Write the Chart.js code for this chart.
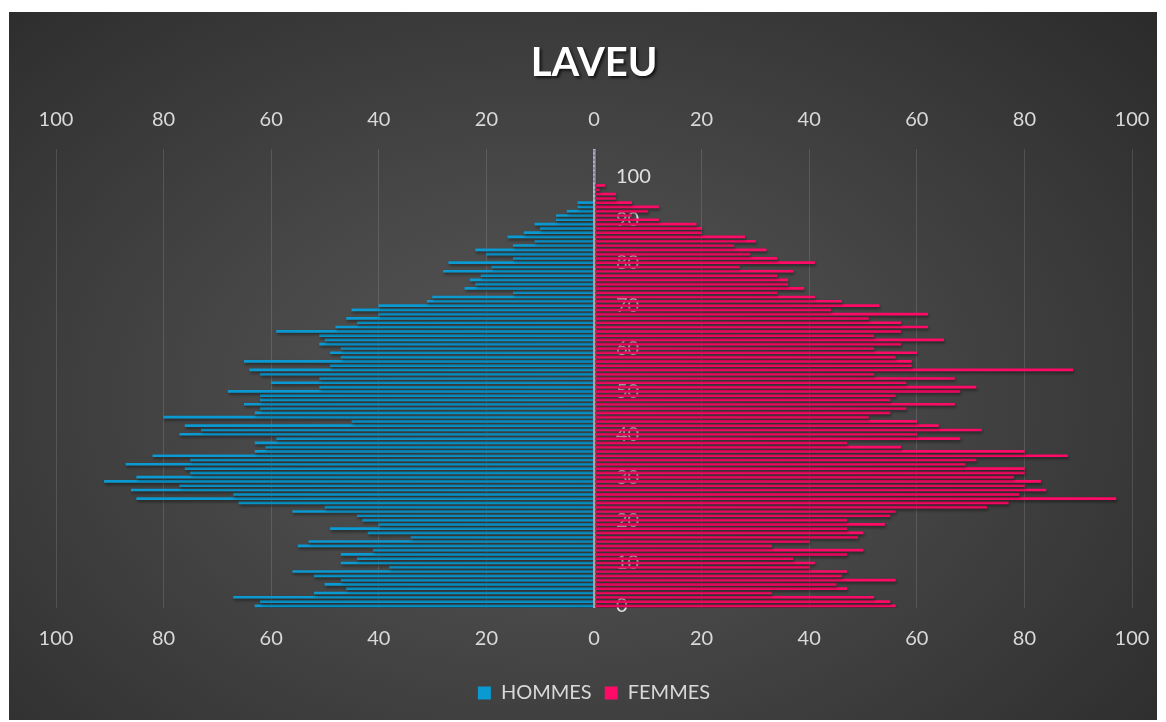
<!DOCTYPE html>
<html><head><meta charset="utf-8">
<script src="https://cdn.jsdelivr.net/npm/chart.js@4.4.1/dist/chart.umd.min.js"></script>
<style>
html,body{margin:0;padding:0;background:#fff;width:1166px;height:722px;overflow:hidden}
#wrap{position:absolute;left:9px;top:12px;width:1148px;height:708px;
background:radial-gradient(ellipse 70% 80% at 47% 55%, #575757 0%, #474747 40%, #2c2c2c 100%);}
canvas{display:block}
</style></head><body>
<div id="wrap"><canvas id="c"></canvas></div>
<script>
const ages = [0,1,2,3,4,5,6,7,8,9,10,11,12,13,14,15,16,17,18,19,20,21,22,23,24,25,26,27,28,29,30,31,32,33,34,35,36,37,38,39,40,41,42,43,44,45,46,47,48,49,50,51,52,53,54,55,56,57,58,59,60,61,62,63,64,65,66,67,68,69,70,71,72,73,74,75,76,77,78,79,80,81,82,83,84,85,86,87,88,89,90,91,92,93,94,95,96,97,98,99,100,101,102,103,104,105,106];
const hommes = [63,62,67,52,46,50,47,52,56,38,47,44,47,41,55,53,34,42,49,40,43,44,56,50,66,85,67,86,77,91,85,75,76,87,75,82,63,61,63,59,77,73,76,45,80,63,62,65,62,62,68,51,60,51,62,64,49,65,47,49,47,51,50,51,59,48,44,46,40,45,40,31,30,15,24,22,23,21,28,19,27,15,20,22,15,11,16,13,10,11,7,7,5,3,3,0,0,0,0,0,0,0,0,0,0,0,0];
const femmes = [56,55,52,33,47,45,56,46,47,40,41,37,47,50,33,40,49,50,47,54,47,55,56,73,77,97,79,84,80,83,78,80,80,69,71,88,80,57,47,68,60,72,64,60,51,55,58,67,55,56,68,71,58,67,52,89,59,59,56,60,52,57,65,52,57,62,57,51,62,44,53,46,41,34,39,36,36,34,37,27,41,34,29,32,26,30,28,20,20,19,12,7,10,12,7,4,4,1,2,0,0,0,0,0,0,0,0];
const axisMin = -100, axisMax = 100, axisStep = 20;
const seriesNames = ['HOMMES','FEMMES'];
const colHommes = '#0A9AD1', colFemmes = '#FF0A66';
const FONT = 'Lato';

const shadowPlugin = {
  id:'barShadow',
  beforeDatasetsDraw(chart){ const c=chart.ctx; c.save(); c.shadowColor='rgba(0,0,0,0.45)'; c.shadowBlur=3; c.shadowOffsetX=1; c.shadowOffsetY=2; },
  afterDatasetsDraw(chart){ chart.ctx.restore(); },
  afterLayout(chart){
    const t = chart.titleBlock;
    if (t && !t._shadowWrapped){
      const d = t.draw.bind(t);
      t.draw = function(){ const c = chart.ctx; c.save(); c.shadowColor='rgba(0,0,0,0.7)'; c.shadowBlur=3; c.shadowOffsetX=2; c.shadowOffsetY=2; d(); c.restore(); };
      t._shadowWrapped = true;
    }
  }
};
const noSidePad = s => { s.paddingLeft = 0; s.paddingRight = 0; };

new Chart(document.getElementById('c'), {
  type:'bar',
  data:{
    labels: ages,
    datasets:[
      {label:seriesNames[0], data:hommes.map(v=>-v), backgroundColor:colHommes, barThickness:2, xAxisID:'x'},
      {label:seriesNames[1], data:femmes, backgroundColor:colFemmes, barThickness:2, xAxisID:'x'}
    ]
  },
  options:{
    indexAxis:'y', responsive:true, maintainAspectRatio:false, animation:false,
    layout:{padding:{left:47, right:25, top:0, bottom:7}},
    scales:{
      x:{ type:'linear', position:'bottom', stacked:true, min:axisMin, max:axisMax, afterFit:noSidePad,
        ticks:{stepSize:axisStep, padding:19, color:'#d9d9d9', font:{family:FONT,size:20}, callback:v=>Math.abs(v)},
        grid:{drawTicks:false, color:c=>c.tick && c.tick.value===0 ? 'rgba(215,215,215,0.9)' : 'rgba(255,255,255,0.13)', lineWidth:c=>c.tick && c.tick.value===0 ? 2.5 : 1},
        border:{display:false}
      },
      x2:{ type:'linear', position:'top', min:axisMin, max:axisMax, afterFit:noSidePad,
        ticks:{stepSize:axisStep, padding:17, color:'#d9d9d9', font:{family:FONT,size:20}, callback:v=>Math.abs(v)},
        grid:{display:false, drawTicks:false}, border:{display:false}
      },
      y:{ type:'category', stacked:true, reverse:true, position:'left', z:1,
        grid:{display:false, drawTicks:false}, border:{display:false},
        afterFit(s){ s.width = 0; s.paddingTop = 0; s.paddingBottom = 0; },
        ticks:{mirror:true, padding:560, autoSkip:false, color:'#e0e0e0', font:{family:FONT,size:20},
          callback(v){ const a = +this.getLabelForValue(v); return (a % 10 === 0 && a <= 100) ? String(a) : null; } }
      }
    },
    plugins:{
      title:{display:true, text:'LAVEU', color:'#ffffff', font:{family:FONT, size:40, weight:'bold'}, padding:{top:27, bottom:4}},
      legend:{display:true, position:'bottom', labels:{boxWidth:13, boxHeight:13, color:'#d9d9d9', font:{family:FONT,size:20}, padding:13}},
      tooltip:{enabled:false}
    }
  },
  plugins:[shadowPlugin]
});
</script>
</body></html>
